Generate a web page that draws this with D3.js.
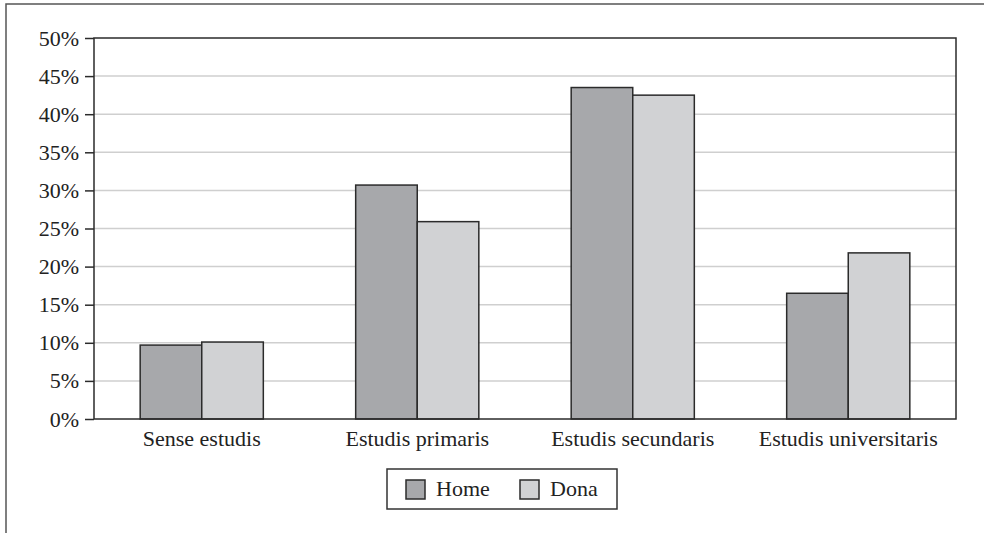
<!DOCTYPE html>
<html>
<head>
<meta charset="utf-8">
<script src="https://cdn.jsdelivr.net/npm/d3@7"></script>
<style>
  body { margin: 0; background: #fff; }
  svg { display: block; font-family: "Liberation Serif", "DejaVu Serif", serif; }
</style>
</head>
<body>
<svg width="984" height="533"></svg>
<script>
// dades
var categories = ["Sense estudis", "Estudis primaris", "Estudis secundaris", "Estudis universitaris"];
var series = ["Home", "Dona"];
var home = [9.7, 30.7, 43.5, 16.5];
var dona = [10.1, 25.9, 42.5, 21.8];
var yTicks = [0, 5, 10, 15, 20, 25, 30, 35, 40, 45, 50];
var colors = ["#a7a8ab", "#d1d2d4"];

var svg = d3.select("svg");
var mLeft = 94, mTop = 38, mRight = 956, mBottom = 419;

// marc exterior
svg.append("path")
  .attr("d", "M6,533 V4 H984")
  .attr("fill", "none")
  .attr("stroke", "#555")
  .attr("stroke-width", 1.5);

var x = d3.scaleBand().domain(categories).range([mLeft, mRight]).paddingInner(0).paddingOuter(0);
var x1 = d3.scaleBand().domain(series).range([0, x.bandwidth()]).paddingInner(0).paddingOuter(0.75);
var y = d3.scaleLinear().domain([0, 50]).range([mBottom, mTop]);

// linies de graella
svg.append("g")
  .selectAll("line")
  .data(yTicks.filter(function (d) { return d > 0 && d < 50; }))
  .enter()
  .append("line")
  .attr("x1", mLeft).attr("x2", mRight)
  .attr("y1", function (d) { return y(d); })
  .attr("y2", function (d) { return y(d); })
  .attr("stroke", "#cfcfcf")
  .attr("stroke-width", 1.5);

// barres
var data = categories.map(function (c, i) {
  return { cat: c, vals: [{ s: "Home", v: home[i] }, { s: "Dona", v: dona[i] }] };
});

svg.append("g")
  .selectAll("g")
  .data(data)
  .enter()
  .append("g")
  .attr("transform", function (d) { return "translate(" + x(d.cat) + ",0)"; })
  .selectAll("rect")
  .data(function (d) { return d.vals; })
  .enter()
  .append("rect")
  .attr("x", function (d) { return x1(d.s); })
  .attr("y", function (d) { return y(d.v); })
  .attr("width", x1.bandwidth())
  .attr("height", function (d) { return mBottom - y(d.v); })
  .attr("fill", function (d, i) { return colors[i]; })
  .attr("stroke", "#2b2b2b")
  .attr("stroke-width", 1.5);

// marc de l'area
svg.append("rect")
  .attr("x", mLeft).attr("y", mTop)
  .attr("width", mRight - mLeft).attr("height", mBottom - mTop)
  .attr("fill", "none")
  .attr("stroke", "#2b2b2b")
  .attr("stroke-width", 1.5);

// eix Y
var yAxis = svg.append("g")
  .attr("transform", "translate(" + mLeft + ",0)")
  .call(d3.axisLeft(y).tickValues(yTicks).tickSize(9).tickPadding(6)
    .tickFormat(function (d) { return d + "%"; }));
yAxis.select(".domain").remove();
yAxis.selectAll("line").attr("stroke", "#2b2b2b").attr("stroke-width", 1.5);
yAxis.selectAll("text")
  .attr("font-family", "Liberation Serif, serif")
  .attr("font-size", "22px")
  .attr("fill", "#222");

// eix X
var xAxis = svg.append("g")
  .attr("transform", "translate(0," + mBottom + ")")
  .call(d3.axisBottom(x).tickSize(0).tickPadding(11));
xAxis.select(".domain").remove();
xAxis.selectAll("text")
  .attr("font-family", "Liberation Serif, serif")
  .attr("font-size", "22px")
  .attr("fill", "#222");

// llegenda
var legend = svg.append("g");
legend.append("rect")
  .attr("x", 387).attr("y", 469)
  .attr("width", 230).attr("height", 40)
  .attr("fill", "#fff")
  .attr("stroke", "#333")
  .attr("stroke-width", 1.5);

var lx = [406, 520];
series.forEach(function (s, i) {
  legend.append("rect")
    .attr("x", lx[i]).attr("y", 480)
    .attr("width", 19).attr("height", 19)
    .attr("fill", colors[i])
    .attr("stroke", "#2b2b2b")
    .attr("stroke-width", 1.5);
  legend.append("text")
    .attr("x", lx[i] + 30).attr("y", 496)
    .attr("font-size", "22px")
    .attr("fill", "#222")
    .text(s);
});
</script>
</body>
</html>
